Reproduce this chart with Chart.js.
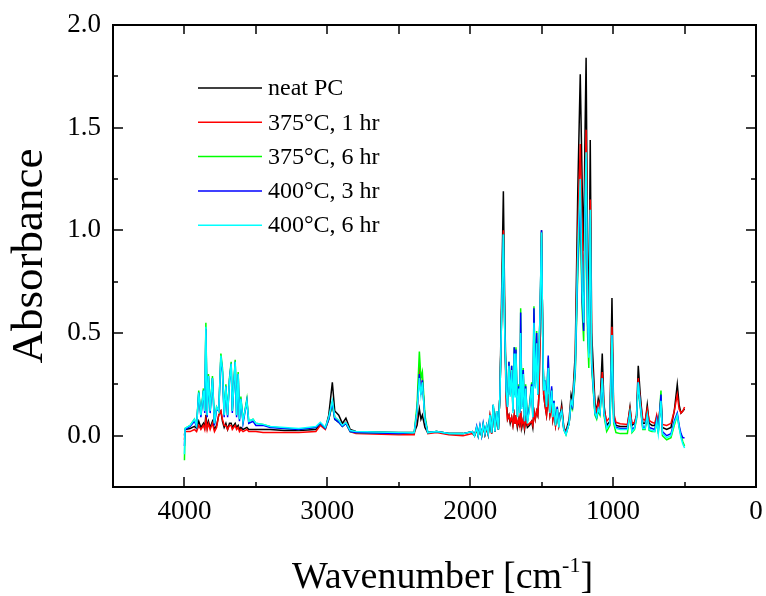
<!DOCTYPE html>
<html><head><meta charset="utf-8">
<script src="https://cdn.jsdelivr.net/npm/chart.js@4.4.0/dist/chart.umd.min.js"></script>
<style>html,body{margin:0;padding:0;background:#fff}#wrap{width:766px;height:596px}</style>
</head><body><div id="wrap"><canvas id="c" width="766" height="596"></canvas></div>
<script>
const wavenumbers = [4000,3996,3960,3930,3915,3900,3885,3867,3858,3850,3841,3832,3820,3804,3790,3775,3760,3745,3734,3722,3710,3698,3685,3673,3665,3645,3635,3624,3615,3605,3590,3563,3550,3520,3500,3450,3400,3300,3200,3080,3049,3014,2990,2965,2948,2920,2895,2870,2840,2800,2500,2392,2372,2356,2345,2335,2317,2297,2235,2150,2050,1985,1970,1955,1944,1932,1920,1909,1897,1885,1874,1862,1850,1839,1827,1815,1803,1792,1780,1768,1758,1748,1739,1729,1720,1710,1701,1692,1686,1680,1670,1660,1653,1647,1639,1629,1620,1612,1600,1585,1570,1562,1554,1545,1535,1527,1519,1511,1501,1493,1486,1477,1466,1454,1442,1430,1422,1414,1403,1391,1380,1370,1360,1345,1330,1308,1294,1284,1265,1247,1230,1216,1206,1196,1189,1179,1170,1160,1150,1127,1115,1104,1092,1076,1064,1045,1022,1008,996,980,950,900,882,868,850,836,824,810,792,776,761,748,728,708,695,684,665,655,625,595,572,551,538,525,512,500];

const neatPC = [0.00,0.03,0.035,0.045,0.035,0.07,0.04,0.06,0.04,0.10,0.04,0.07,0.04,0.07,0.03,0.05,0.10,0.12,0.07,0.04,0.06,0.03,0.06,0.06,0.04,0.06,0.04,0.05,0.03,0.04,0.03,0.04,0.03,0.03,0.03,0.03,0.03,0.025,0.025,0.03,0.06,0.035,0.10,0.26,0.12,0.10,0.06,0.085,0.03,0.02,0.015,0.015,0.05,0.13,0.08,0.10,0.04,0.015,0.02,0.01,0.01,0.02,0.0,0.03,0.0,0.035,0.0,0.05,0.005,0.04,0.005,0.09,0.01,0.14,0.02,0.11,0.03,0.20,0.70,1.19,0.60,0.20,0.08,0.10,0.06,0.09,0.05,0.10,0.06,0.10,0.04,0.08,0.04,0.12,0.04,0.08,0.03,0.08,0.04,0.05,0.07,0.04,0.12,0.08,0.12,0.10,0.20,0.50,1.00,0.50,0.20,0.15,0.10,0.20,0.10,0.15,0.08,0.12,0.05,0.11,0.05,0.10,0.15,0.04,0.02,0.08,0.20,0.17,0.40,1.20,1.76,1.20,0.90,1.50,1.84,0.90,0.50,1.44,0.50,0.16,0.12,0.18,0.14,0.40,0.15,0.05,0.07,0.67,0.10,0.05,0.045,0.045,0.14,0.05,0.06,0.10,0.34,0.20,0.06,0.06,0.15,0.06,0.05,0.05,0.09,0.04,0.16,0.04,0.03,0.04,0.12,0.25,0.15,0.11,0.12,0.13];

const treated375C1h = [-0.02,0.02,0.02,0.03,0.02,0.05,0.03,0.05,0.03,0.08,0.03,0.06,0.03,0.06,0.02,0.04,0.10,0.12,0.08,0.05,0.05,0.03,0.05,0.05,0.03,0.05,0.03,0.04,0.02,0.03,0.02,0.03,0.02,0.02,0.02,0.015,0.015,0.015,0.015,0.02,0.05,0.03,0.08,0.16,0.09,0.07,0.05,0.065,0.02,0.01,0.005,0.005,0.10,0.34,0.22,0.27,0.08,0.01,0.015,0.005,0.0,0.01,0.0,0.03,0.0,0.035,0.0,0.05,0.005,0.04,0.005,0.09,0.01,0.14,0.02,0.11,0.03,0.20,0.62,1.00,0.50,0.15,0.08,0.10,0.07,0.09,0.05,0.10,0.06,0.10,0.05,0.08,0.05,0.12,0.05,0.08,0.04,0.08,0.05,0.06,0.07,0.05,0.12,0.08,0.12,0.10,0.20,0.50,0.99,0.50,0.20,0.15,0.10,0.20,0.10,0.15,0.08,0.12,0.05,0.11,0.05,0.09,0.13,0.04,0.015,0.06,0.17,0.15,0.35,1.00,1.42,0.95,0.70,1.20,1.49,0.70,0.42,1.15,0.40,0.14,0.12,0.16,0.13,0.31,0.13,0.07,0.09,0.53,0.11,0.065,0.058,0.055,0.13,0.06,0.065,0.10,0.28,0.17,0.08,0.075,0.13,0.075,0.065,0.06,0.10,0.055,0.18,0.055,0.05,0.06,0.12,0.20,0.13,0.11,0.12,0.14];

const treated375C6h = [-0.12,0.035,0.05,0.08,0.05,0.22,0.10,0.23,0.12,0.55,0.10,0.30,0.12,0.29,0.06,0.14,0.12,0.40,0.33,0.10,0.25,0.10,0.28,0.36,0.12,0.37,0.10,0.31,0.08,0.19,0.07,0.18,0.07,0.08,0.06,0.055,0.045,0.035,0.03,0.04,0.06,0.035,0.08,0.15,0.08,0.065,0.045,0.06,0.02,0.015,0.01,0.015,0.15,0.41,0.28,0.31,0.10,0.015,0.02,0.01,0.01,0.02,0.0,0.04,0.0,0.045,0.0,0.055,0.01,0.05,0.01,0.10,0.015,0.15,0.02,0.12,0.03,0.20,0.60,0.98,0.50,0.22,0.15,0.36,0.20,0.34,0.12,0.43,0.20,0.43,0.10,0.25,0.12,0.62,0.15,0.33,0.08,0.25,0.07,0.15,0.26,0.10,0.63,0.25,0.51,0.20,0.41,0.60,0.99,0.50,0.22,0.27,0.15,0.38,0.12,0.23,0.10,0.17,0.06,0.14,0.05,0.11,0.12,0.03,0.005,0.06,0.15,0.13,0.30,0.80,1.07,0.60,0.46,1.00,1.30,0.50,0.33,1.05,0.33,0.10,0.08,0.12,0.10,0.27,0.10,0.02,0.05,0.47,0.06,0.015,0.01,0.01,0.11,0.015,0.03,0.08,0.25,0.14,0.03,0.03,0.10,0.025,0.02,0.02,0.07,0.01,0.22,0.0,-0.02,-0.01,0.05,0.10,0.04,0.0,-0.03,-0.05];

const treated400C3h = [-0.05,0.03,0.045,0.07,0.045,0.21,0.09,0.22,0.11,0.52,0.09,0.29,0.11,0.28,0.05,0.13,0.12,0.38,0.31,0.09,0.24,0.09,0.27,0.35,0.11,0.36,0.09,0.30,0.07,0.18,0.06,0.17,0.06,0.07,0.05,0.05,0.04,0.035,0.03,0.04,0.06,0.035,0.08,0.16,0.08,0.065,0.045,0.06,0.02,0.015,0.01,0.015,0.12,0.30,0.20,0.27,0.08,0.015,0.02,0.01,0.01,0.02,0.0,0.045,0.0,0.05,0.0,0.06,0.01,0.05,0.01,0.10,0.015,0.15,0.02,0.12,0.03,0.20,0.60,0.98,0.50,0.22,0.14,0.36,0.20,0.34,0.12,0.43,0.20,0.42,0.10,0.24,0.11,0.60,0.14,0.32,0.07,0.24,0.07,0.14,0.25,0.09,0.62,0.24,0.50,0.20,0.40,0.60,1.00,0.50,0.22,0.27,0.15,0.39,0.12,0.24,0.10,0.17,0.06,0.14,0.05,0.11,0.12,0.03,0.01,0.06,0.16,0.14,0.32,0.85,1.17,0.65,0.51,1.10,1.35,0.55,0.40,1.08,0.35,0.11,0.09,0.13,0.11,0.28,0.11,0.04,0.06,0.49,0.08,0.04,0.035,0.035,0.11,0.03,0.04,0.09,0.26,0.15,0.04,0.04,0.10,0.04,0.035,0.03,0.08,0.02,0.20,0.02,0.0,0.01,0.07,0.11,0.05,0.01,-0.01,-0.01];

const treated400C6h = [-0.09,0.035,0.05,0.08,0.05,0.21,0.10,0.22,0.12,0.53,0.10,0.29,0.12,0.28,0.06,0.14,0.12,0.39,0.32,0.10,0.24,0.10,0.27,0.35,0.12,0.36,0.10,0.30,0.08,0.18,0.07,0.17,0.07,0.08,0.06,0.055,0.045,0.04,0.035,0.045,0.065,0.04,0.09,0.17,0.09,0.075,0.05,0.065,0.025,0.02,0.015,0.015,0.12,0.28,0.20,0.26,0.08,0.015,0.02,0.01,0.01,0.02,0.0,0.04,0.0,0.045,0.0,0.055,0.01,0.05,0.01,0.10,0.015,0.15,0.02,0.12,0.03,0.20,0.60,0.98,0.50,0.22,0.14,0.34,0.19,0.32,0.11,0.40,0.19,0.40,0.09,0.23,0.11,0.50,0.13,0.30,0.07,0.23,0.06,0.13,0.24,0.09,0.55,0.23,0.45,0.20,0.38,0.60,0.99,0.50,0.22,0.26,0.14,0.33,0.11,0.22,0.09,0.16,0.05,0.13,0.04,0.10,0.12,0.03,0.005,0.06,0.17,0.15,0.33,0.90,1.25,0.70,0.55,1.15,1.38,0.60,0.38,1.10,0.36,0.11,0.09,0.13,0.11,0.28,0.11,0.035,0.06,0.49,0.07,0.035,0.03,0.03,0.11,0.02,0.035,0.09,0.26,0.15,0.035,0.035,0.10,0.03,0.025,0.02,0.07,0.01,0.17,0.01,-0.01,0.0,0.06,0.10,0.04,-0.01,-0.04,-0.06];

const seriesLabels = ['neat PC','375°C, 1 hr','375°C, 6 hr','400°C, 3 hr','400°C, 6 hr'];
const seriesColors = ['#000000','#ff0000','#00ff00','#0000ff','#00ffff'];
const xTickLabels = [4000,3000,2000,1000,0];
const xMinorTicks = [4500,3500,2500,1500,500];
const yTickLabels = [0.0,0.5,1.0,1.5,2.0];
const yMinorTicks = [-0.25,0.25,0.75,1.25,1.75];

const FONT = "'Liberation Serif','Times New Roman',serif";
const allSeries = [neatPC, treated375C1h, treated375C6h, treated400C3h, treated400C6h];

const datasets = allSeries.map((vals, i) => ({
  label: seriesLabels[i],
  data: wavenumbers.map((w, k) => ({x: w, y: vals[k]})),
  borderColor: seriesColors[i],
  backgroundColor: seriesColors[i],
  borderWidth: 1.5,
  pointRadius: 0,
  tension: 0,
  fill: false,
  order: allSeries.length - 1 - i
}));

const framePlugin = {
  id: 'framePlugin',
  afterDraw(chart) {
    const {ctx, chartArea: a, scales: {x, y}} = chart;
    ctx.save();
    ctx.strokeStyle = '#000';
    ctx.lineCap = 'butt';
    const seg = (x1, y1, x2, y2) => { ctx.beginPath(); ctx.moveTo(x1, y1); ctx.lineTo(x2, y2); ctx.stroke(); };
    ctx.lineWidth = 1.5;
    xTickLabels.forEach(v => { const p = Math.round(x.getPixelForValue(v)); seg(p, a.bottom, p, a.bottom - 10); seg(p, a.top, p, a.top + 9); });
    xMinorTicks.forEach(v => { const p = Math.round(x.getPixelForValue(v)); seg(p, a.bottom, p, a.bottom - 5); seg(p, a.top, p, a.top + 9); });
    yTickLabels.forEach(v => { const p = Math.round(y.getPixelForValue(v)); seg(a.left, p, a.left + 10, p); seg(a.right, p, a.right - 10, p); });
    yMinorTicks.forEach(v => { const p = Math.round(y.getPixelForValue(v)); seg(a.left, p, a.left + 5, p); seg(a.right, p, a.right - 5, p); });
    ctx.lineWidth = 2;
    ctx.strokeRect(a.left, a.top, a.right - a.left, a.bottom - a.top);

    // legend
    ctx.textBaseline = 'middle';
    ctx.textAlign = 'left';
    ctx.font = '24px ' + FONT;
    chart.data.datasets.forEach((ds, i) => {
      const yy = 88 + i * 34.3;
      ctx.strokeStyle = ds.borderColor;
      ctx.lineWidth = 1.5;
      seg(198, yy, 262, yy);
      ctx.fillStyle = '#000';
      ctx.fillText(ds.label, 268, yy + 1);
    });

    // x axis title with superscript
    const main = 'Wavenumber [cm';
    const sup = '-1';
    const end = ']';
    ctx.font = '38px ' + FONT;
    const w1 = ctx.measureText(main).width;
    const w3 = ctx.measureText(end).width;
    ctx.font = '22px ' + FONT;
    const w2 = ctx.measureText(sup).width;
    const total = w1 + w2 + w3;
    const cx = (a.left + a.right) / 2 + 8;
    let sx = cx - total / 2;
    const base = 588;
    ctx.textBaseline = 'alphabetic';
    ctx.fillStyle = '#000';
    ctx.font = '38px ' + FONT;
    ctx.fillText(main, sx, base);
    ctx.font = '22px ' + FONT;
    ctx.fillText(sup, sx + w1, base - 16);
    ctx.font = '38px ' + FONT;
    ctx.fillText(end, sx + w1 + w2, base);
    ctx.restore();
  }
};

new Chart(document.getElementById('c'), {
  type: 'line',
  data: {datasets},
  options: {
    responsive: false,
    animation: false,
    devicePixelRatio: 1,
    layout: {padding: {left: 0, right: 10, top: 25, bottom: 0}},
    plugins: {legend: {display: false}, tooltip: {enabled: false}},
    scales: {
      x: {
        type: 'linear', reverse: true, min: 0, max: 4500,
        afterBuildTicks: s => { s.ticks = xTickLabels.map(v => ({value: v})); },
        afterFit: s => { s.height = 109; s.paddingLeft = 0; s.paddingRight = 0; },
        ticks: {font: {family: FONT, size: 27}, color: '#000', padding: 9, maxRotation: 0, autoSkip: false, callback: v => String(v)},
        grid: {display: false, drawTicks: false},
        border: {display: false}
      },
      y: {
        type: 'linear', min: -0.25, max: 2.0,
        afterBuildTicks: s => { s.ticks = yTickLabels.map(v => ({value: v})); },
        afterFit: s => { s.width = 113; s.paddingTop = 0; s.paddingBottom = 0; },
        ticks: {font: {family: FONT, size: 27}, color: '#000', padding: 12, callback: v => Number(v).toFixed(1)},
        grid: {display: false, drawTicks: false},
        border: {display: false},
        title: {display: true, text: 'Absorbance', font: {family: FONT, size: 45}, color: '#000', padding: {top: 3, bottom: 0}}
      }
    }
  },
  plugins: [framePlugin]
});
</script>
</body></html>
